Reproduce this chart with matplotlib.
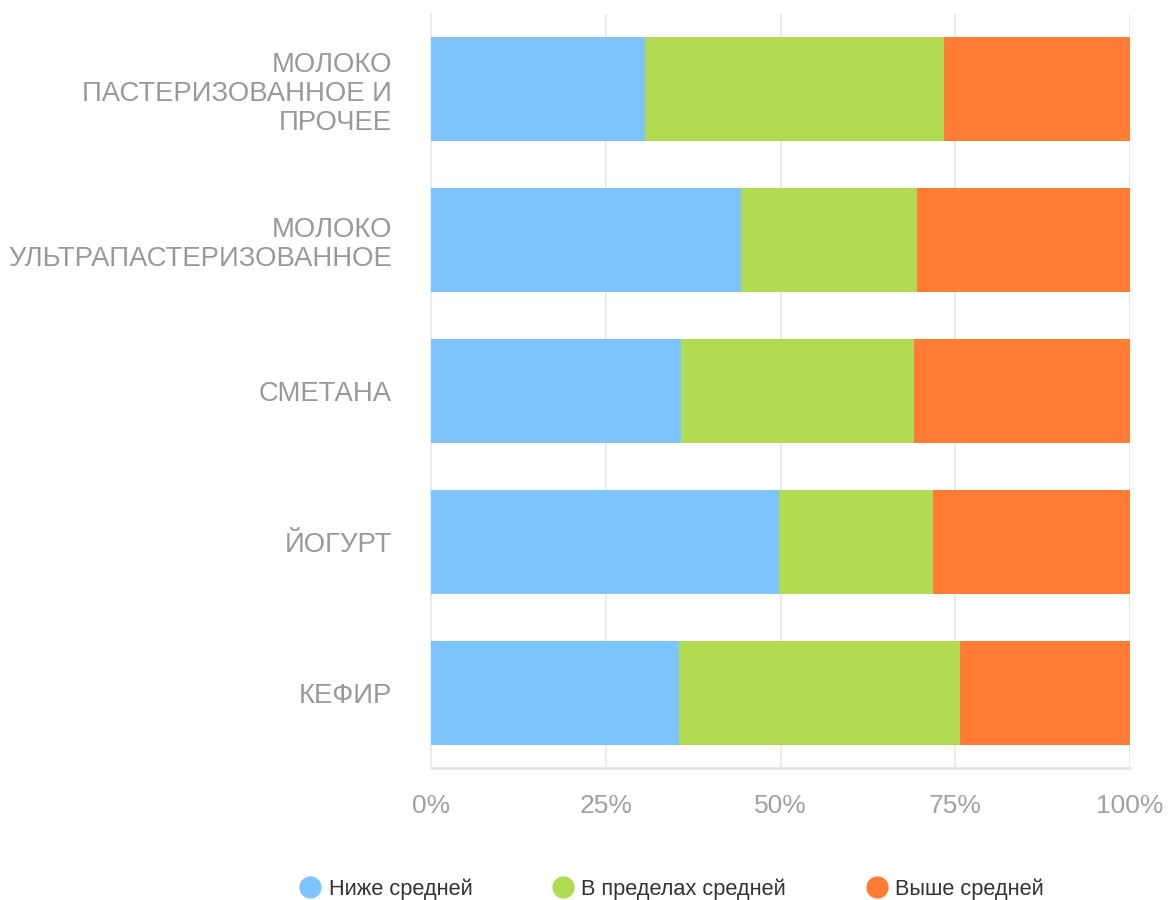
import matplotlib
matplotlib.use("Agg")
import matplotlib.pyplot as plt
from matplotlib.lines import Line2D
import numpy as np

plt.rcParams['font.family'] = ['Liberation Sans', 'DejaVu Sans']

categories = ["МОЛОКО\nПАСТЕРИЗОВАННОЕ И\nПРОЧЕЕ", "МОЛОКО\nУЛЬТРАПАСТЕРИЗОВАННОЕ",
              "СМЕТАНА", "ЙОГУРТ", "КЕФИР"]
below = [30.6, 44.3, 35.8, 49.8, 35.5]
within = [42.8, 25.2, 33.3, 22.0, 40.2]
above = [26.6, 30.5, 30.9, 28.2, 24.3]
series_names = ["Ниже средней", "В пределах средней", "Выше средней"]
colors = ['#7DC3FD', '#B1DB53', '#FE7C34']
xticks = [0, 25, 50, 75, 100]
xticklabels = ["0%", "25%", "50%", "75%", "100%"]

fig = plt.figure(figsize=(11.68, 9), dpi=100)
ax = fig.add_axes([431/1168, 132/900, 699/1168, 754/900])

y = np.arange(len(categories))
left = np.zeros(len(categories))
for vals, c, name in zip([below, within, above], colors, series_names):
    ax.barh(y, vals, left=left, color=c, height=0.69, label=name, zorder=3)
    left += np.array(vals)

ax.set_xlim(0, 100)
ax.set_ylim(len(categories) - 0.5, -0.5)
ax.set_yticks(y)
ax.set_yticklabels(categories, fontsize=19.8, color='#999999', linespacing=1.15)
ax.set_xticks(xticks)
ax.set_xticklabels(xticklabels, fontsize=19, color='#a0a0a0')
ax.tick_params(axis='both', length=0)
ax.tick_params(axis='x', pad=19)
ax.tick_params(axis='y', pad=28)
ax.grid(axis='x', color='#ebebeb', linewidth=1.5, zorder=0)
for s in ['top', 'right']:
    ax.spines[s].set_visible(False)
ax.spines['left'].set_color('#ebebeb')
ax.spines['bottom'].set_color('#e6e6e6')
ax.spines['bottom'].set_linewidth(2)
ax.spines['left'].set_linewidth(1.5)

handles = [Line2D([0], [0], marker='o', linestyle='none', markersize=15,
                  markerfacecolor=c, markeredgecolor=c) for c in colors]
leg = fig.legend(handles, series_names, loc='center', bbox_to_anchor=(671/1168, 11/900),
                 ncol=3, frameon=False, fontsize=15.7, handletextpad=0.3,
                 columnspacing=3.6, handlelength=1.1)
for t in leg.get_texts():
    t.set_color('#333333')

fig.savefig("out.png", dpi=100)
